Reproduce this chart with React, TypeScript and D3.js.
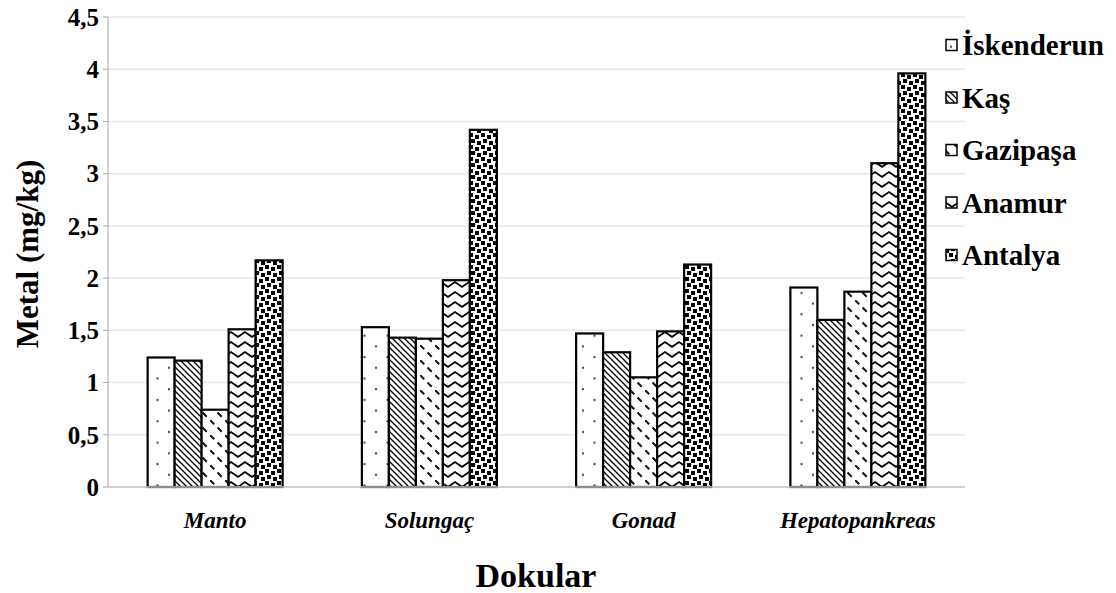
import React from "react";
import * as d3 from "d3";

const categories = ["Manto", "Solungaç", "Gonad", "Hepatopankreas"];
const seriesNames = ["İskenderun", "Kaş", "Gazipaşa", "Anamur", "Antalya"];
const iskenderun = [1.24, 1.53, 1.47, 1.91];
const kas = [1.21, 1.43, 1.29, 1.6];
const gazipasa = [0.74, 1.42, 1.05, 1.87];
const anamur = [1.51, 1.98, 1.49, 3.1];
const antalya = [2.17, 3.42, 2.13, 3.96];
const yTicks = [0, 0.5, 1, 1.5, 2, 2.5, 3, 3.5, 4, 4.5];
const yTitle = "Metal (mg/kg)";
const xTitle = "Dokular";

const seriesValues = [iskenderun, kas, gazipasa, anamur, antalya];
const patternIds = ["p-isk", "p-kas", "p-gaz", "p-ana", "p-ant"];

const W = 1116;
const H = 593;
const left = 108;
const right = 965;
const top = 17;
const bottom = 487;
const ff = "'Liberation Serif', 'Times New Roman', serif";
const tStyle = (size: number, italic = false): React.CSSProperties => ({
  fontFamily: ff,
  fontSize: size + "px",
  fontWeight: 700,
  fontStyle: italic ? "italic" : "normal",
});

function fmt(v: number) {
  return String(v).replace(".", ",");
}

export default function App() {
  const x0 = d3
    .scaleBand<string>()
    .domain(categories)
    .range([left, right])
    .paddingInner(0.37)
    .paddingOuter(0.185);
  const x1 = d3
    .scaleBand<string>()
    .domain(seriesNames)
    .range([0, x0.bandwidth()]);
  const y = d3.scaleLinear().domain([0, 4.5]).range([bottom, top]);

  return (
    <svg
      width={W}
      height={H}
      style={{ position: "absolute", left: 0, top: 0, background: "#fff" }}
    >
      <defs>
        <pattern id="p-isk" patternUnits="userSpaceOnUse" width={23} height={21.4} x={2} y={0}>
          <rect width={23} height={21.4} fill="#fff" />
          <rect x={5} y={3} width={2} height={2} fill="#444" />
          <rect x={16.5} y={13.7} width={2} height={2} fill="#444" />
        </pattern>
        <pattern id="p-kas" patternUnits="userSpaceOnUse" width={6} height={6}>
          <rect width={6} height={6} fill="#fff" />
          <path d="M-1,-1 L7,7 M-1,5 L1,7 M5,-1 L7,1" stroke="#000" strokeWidth={1.3} />
        </pattern>
        <pattern id="p-gaz" patternUnits="userSpaceOnUse" width={15} height={15}>
          <rect width={15} height={15} fill="#fff" />
          <path d="M0,0 L15,15" stroke="#111" strokeWidth={2} strokeDasharray="6,4.6" />
        </pattern>
        <pattern id="p-ana" patternUnits="userSpaceOnUse" width={14} height={10}>
          <rect width={14} height={10} fill="#fff" />
          <path d="M-1,7.5 L7,2 L15,7.5" stroke="#000" strokeWidth={1.8} fill="none" />
        </pattern>
        <pattern id="p-ant" patternUnits="userSpaceOnUse" width={12} height={12}>
          <rect width={12} height={12} fill="#fff" />
          <rect x={1} y={1} width={4} height={4} fill="#000" />
          <rect x={7} y={3} width={4} height={4} fill="#000" />
          <rect x={3} y={7} width={4} height={4} fill="#000" />
          <rect x={9} y={9} width={3} height={3} fill="#000" />
          <rect x={0} y={9} width={1} height={3} fill="#000" />
          <rect x={9} y={0} width={3} height={1} fill="#000" />
          <rect x={0} y={0} width={1} height={1} fill="#000" />
        </pattern>
      </defs>

      {yTicks.map((t) => (
        <g key={t}>
          {t > 0 && (
            <line x1={left} x2={right} y1={y(t)} y2={y(t)} stroke="#e8e8e8" strokeWidth={1.5} />
          )}
          <line x1={left - 5} x2={left} y1={y(t)} y2={y(t)} stroke="#a6a6a6" strokeWidth={1} />
          <text x={left - 9} y={y(t)} dy="0.35em" textAnchor="end" style={tStyle(25)}>
            {fmt(t)}
          </text>
        </g>
      ))}
      <line x1={left} x2={left} y1={top} y2={bottom} stroke="#a6a6a6" strokeWidth={1} />

      {categories.map((c, ci) => (
        <g key={c}>
          {seriesNames.map((s, si) => {
            const v = seriesValues[si][ci];
            const bx = (x0(c) as number) + (x1(s) as number);
            return (
              <rect
                key={s}
                x={bx}
                y={y(v)}
                width={x1.bandwidth()}
                height={bottom - y(v)}
                fill={`url(#${patternIds[si]})`}
                stroke="#000"
                strokeWidth={2.2}
              />
            );
          })}
          <text
            x={(x0(c) as number) + x0.bandwidth() / 2}
            y={528}
            textAnchor="middle"
            style={tStyle(23, true)}
          >
            {c}
          </text>
        </g>
      ))}
      <line x1={left} x2={right} y1={bottom} y2={bottom} stroke="#bfbfbf" strokeWidth={1.5} />

      <text x={536} y={587} textAnchor="middle" style={tStyle(34)}>
        {xTitle}
      </text>
      <text transform={`translate(38,254) rotate(-90)`} textAnchor="middle" style={tStyle(31)}>
        {yTitle}
      </text>

      {seriesNames.map((s, si) => {
        const cy = 45 + si * 52.5;
        return (
          <g key={s}>
            <rect
              x={946}
              y={cy - 5.5}
              width={11}
              height={11}
              fill={`url(#${patternIds[si]})`}
              stroke="#000"
              strokeWidth={1.5}
            />
            <text x={962} y={cy} dy="0.35em" style={tStyle(29)}>
              {s}
            </text>
          </g>
        );
      })}
    </svg>
  );
}
